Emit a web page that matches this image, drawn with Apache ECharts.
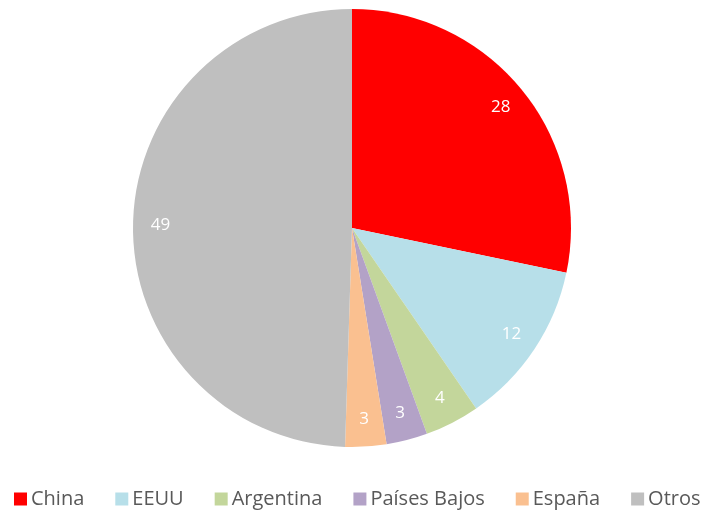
<!DOCTYPE html>
<html>
<head>
<meta charset="utf-8">
<script src="https://cdn.jsdelivr.net/npm/echarts@6/dist/echarts.min.js"></script>
<style>
  html, body { margin: 0; padding: 0; background: #fff; }
  #chart { width: 703px; height: 513px; }
</style>
</head>
<body>
<div id="chart"></div>
<script>
var paises = ['China', 'EEUU', 'Argentina', 'Países Bajos', 'España', 'Otros'];
var valores = [28, 12, 4, 3, 3, 49];
var colores = ['#ff0000', '#b7dfe9', '#c3d69b', '#b3a2c7', '#fac090', '#bfbfbf'];

var chart = echarts.init(document.getElementById('chart'));

var datos = paises.map(function (p, i) {
    return { name: p, value: valores[i], itemStyle: { color: colores[i] } };
});

var option = {
    animation: false,
    legend: {
        top: 484,
        left: 14,
        padding: [5, 0, 5, 0],
        icon: 'rect',
        itemWidth: 13,
        itemHeight: 13,
        itemGap: 31,
        textStyle: { color: '#595959', fontSize: 20, fontFamily: 'Open Sans', padding: [0, 0, 0, -1] },
        data: paises
    },
    series: [
        {
            type: 'pie',
            center: [352, 228],
            radius: [0, 219],
            startAngle: 90,
            label: { show: false },
            labelLine: { show: false },
            data: datos
        },
        {
            // capa solo para las etiquetas (cerca del borde)
            type: 'pie',
            center: [352, 228],
            radius: [158, 219],
            startAngle: 90,
            silent: true,
            itemStyle: { color: 'rgba(0,0,0,0)' },
            label: {
                show: true,
                position: 'inside',
                color: '#ffffff',
                fontSize: 17,
                fontFamily: 'Open Sans',
                formatter: '{c}'
            },
            labelLine: { show: false },
            data: paises.map(function (p, i) { return { name: p, value: valores[i] }; })
        }
    ]
};
chart.setOption(option);
</script>
</body>
</html>
